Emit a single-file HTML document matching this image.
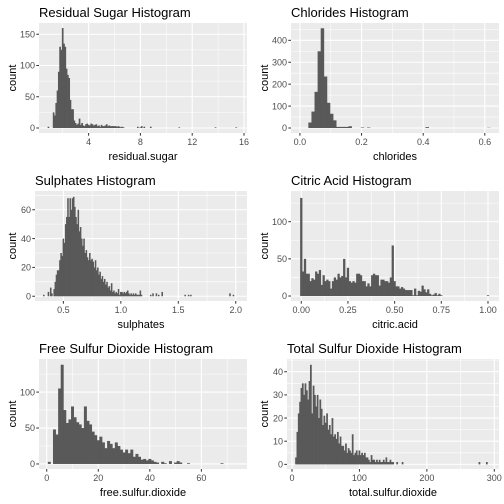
<!DOCTYPE html>
<html><head><meta charset="utf-8"><style>
body{margin:0;background:#fff;}
svg{display:block;font-family:"Liberation Sans",sans-serif;}
</style></head><body>
<svg id="c" width="504" height="504" viewBox="0 0 504 504"></svg>
<script>
// ---- data ----
const sugarX=[0.9,1.3,1.4,1.5,1.6,1.7,1.8,1.9,2.0,2.1,2.2,2.3,2.4,2.5,2.6,2.7,2.8,2.9,3.0,3.1,3.2,3.3,3.4,3.5,3.6,3.7,3.8,3.9,4.0,4.1,4.2,4.3,4.4,4.5,4.6,4.7,4.8,4.9,5.0,5.1,5.2,5.3,5.4,5.5,5.6,5.7,5.8,5.9,6.0,6.1,6.2,6.3,6.4,6.5,6.6,6.7,7.8,8.0,8.1,8.3,8.8,11.0,13.8,15.4];
const sugarCount=[2,25,20,40,60,90,130,125,160,135,130,95,85,80,45,30,30,12,8,5,7,15,5,8,4,3,6,7,5,4,7,6,4,5,6,3,4,2,5,3,3,4,6,3,4,3,3,3,3,3,2,3,2,1,2,1,2,1,3,2,2,1,1,1];
const chlorX=[0.03,0.04,0.05,0.06,0.07,0.08,0.09,0.10,0.11,0.12,0.13,0.14,0.15,0.16,0.20,0.22,0.41,0.61];
const chlorCount=[25,75,165,350,455,235,115,65,35,5,5,5,5,8,2,2,4,1];
const sulphX=[0.33,0.37,0.39,0.40,0.42,0.43,0.44,0.45,0.46,0.47,0.48,0.49,0.50,0.51,0.52,0.53,0.54,0.55,0.56,0.57,0.58,0.59,0.60,0.61,0.62,0.63,0.64,0.65,0.66,0.67,0.68,0.69,0.70,0.71,0.72,0.73,0.74,0.75,0.76,0.77,0.78,0.79,0.80,0.81,0.82,0.83,0.84,0.85,0.86,0.87,0.88,0.89,0.90,0.91,0.92,0.93,0.94,0.95,0.96,0.97,0.98,0.99,1.00,1.01,1.02,1.03,1.04,1.05,1.06,1.07,1.08,1.09,1.10,1.11,1.12,1.13,1.14,1.15,1.16,1.17,1.18,1.26,1.28,1.31,1.33,1.36,1.56,1.59,1.61,1.95,1.98];
const sulphCount=[1,3,6,2,5,10,15,18,18,25,30,28,40,37,50,55,68,55,68,60,68,69,62,55,50,60,45,48,40,35,40,30,32,27,25,30,25,26,24,20,25,18,20,15,17,12,14,10,12,8,10,6,7,4,9,3,4,2,3,2,5,1,3,3,2,3,2,3,4,2,1,2,1,2,1,2,1,1,1,4,1,1,2,2,1,3,1,1,1,2,1];
const citricX=[0.00,0.01,0.02,0.03,0.04,0.05,0.06,0.07,0.08,0.09,0.10,0.11,0.12,0.13,0.14,0.15,0.16,0.17,0.18,0.19,0.20,0.21,0.22,0.23,0.24,0.25,0.26,0.27,0.28,0.29,0.30,0.31,0.32,0.33,0.34,0.35,0.36,0.37,0.38,0.39,0.40,0.41,0.42,0.43,0.44,0.45,0.46,0.47,0.48,0.49,0.50,0.51,0.52,0.53,0.54,0.55,0.56,0.57,0.58,0.59,0.60,0.61,0.62,0.63,0.64,0.65,0.66,0.67,0.68,0.69,0.70,0.71,0.72,0.73,0.74,0.75,1.00];
const citricCount=[132,33,50,30,30,20,24,22,33,30,35,15,28,20,22,20,10,20,25,22,30,25,27,50,25,38,20,18,20,18,30,30,28,20,20,13,17,13,28,30,28,28,14,22,22,20,20,18,25,68,20,13,13,10,12,10,8,8,8,8,1,10,1,7,6,14,9,5,9,3,1,2,4,1,3,1,1];
const freeX=[1,3,4,5,6,7,8,9,10,11,12,13,14,15,16,17,18,19,20,21,22,23,24,25,26,27,28,29,30,31,32,33,34,35,36,37,38,39,40,41,42,43,45,46,48,50,51,52,55,68];
const freeCount=[3,48,41,105,138,75,57,62,80,65,58,55,50,80,60,55,45,40,33,38,30,22,32,28,22,30,25,20,16,20,15,20,10,14,10,6,7,5,7,5,3,2,3,1,4,2,4,2,1,1];
const totalX=[6,8,10,12,14,16,18,20,22,24,26,28,30,32,34,36,38,40,42,44,46,48,50,52,54,56,58,60,62,64,66,68,70,72,74,76,78,80,82,84,86,88,90,92,94,96,98,100,102,104,106,108,110,112,114,116,118,120,122,124,126,128,130,132,134,136,138,140,142,144,146,148,150,156,164,278,289];
const totalCount=[3,14,22,27,33,35,30,35,32,28,36,43,22,34,30,25,30,20,28,24,17,21,18,22,15,17,13,20,12,13,11,14,9,12,8,8,6,9,5,7,6,5,13,4,5,6,4,6,4,5,4,5,3,3,2,1,4,2,2,1,2,1,2,1,1,2,1,3,1,1,2,1,1,1,1,1,1];
const sugarXTicks=[4,8,12,16], sugarYTicks=[0,50,100,150];
const chlorXTicks=[0,0.2,0.4,0.6], chlorYTicks=[0,100,200,300,400];
const sulphXTicks=[0.5,1.0,1.5,2.0], sulphYTicks=[0,20,40,60];
const citricXTicks=[0,0.25,0.5,0.75,1.0], citricYTicks=[0,50,100];
const freeXTicks=[0,20,40,60], freeYTicks=[0,50,100];
const totalXTicks=[0,100,200,300], totalYTicks=[0,10,20,30,40];

const NS="http://www.w3.org/2000/svg";
const svg=document.getElementById('c');
function mk(tag,attrs,parent,text){const e=document.createElementNS(NS,tag);for(const k in attrs)e.setAttribute(k,attrs[k]);if(text!==undefined)e.textContent=text;(parent||svg).appendChild(e);return e;}

function panel(p){
  const g=mk('g',{});
  
  
  const sx=v=>p.L+(v-p.xl[0])/(p.xl[1]-p.xl[0])*(p.R-p.L);
  const sy=v=>p.B-(v-p.yl[0])/(p.yl[1]-p.yl[0])*(p.B-p.T);
  const bg=mk('rect',{x:p.L,y:p.T,width:p.R-p.L,height:p.B-p.T,fill:'#EBEBEB'},g);
  
  
  const xm=[],ym=[];
  const xs=p.xt,ys=p.yt,dx=xs[1]-xs[0],dy=ys[1]-ys[0];
  for(let v=xs[0]-dx/2;v<=p.xl[1];v+=dx) if(v>=p.xl[0]) xm.push(v);
  for(let v=ys[0]-dy/2;v<=p.yl[1];v+=dy) if(v>=p.yl[0]) ym.push(v);
  xm.forEach(v=>mk('line',{x1:sx(v),x2:sx(v),y1:p.T,y2:p.B,stroke:'#fff','stroke-width':0.55},g));
  ym.forEach(v=>mk('line',{y1:sy(v),y2:sy(v),x1:p.L,x2:p.R,stroke:'#fff','stroke-width':0.55},g));
  xs.forEach(v=>mk('line',{x1:sx(v),x2:sx(v),y1:p.T,y2:p.B,stroke:'#fff','stroke-width':1.1},g));
  ys.forEach(v=>mk('line',{y1:sy(v),y2:sy(v),x1:p.L,x2:p.R,stroke:'#fff','stroke-width':1.1},g));
  p.bx.forEach((x,i)=>{
    const x0=sx(x+p.off),x1=sx(x+p.off+p.w);
    const r=mk('rect',{x:x0-0.2,y:sy(p.bc[i]),width:Math.max(x1-x0,0.6)+0.4,height:sy(0)-sy(p.bc[i]),fill:'#595959'},g);
    
    
  });
  xs.forEach(v=>{
    mk('line',{x1:sx(v),x2:sx(v),y1:p.B,y2:p.B+2.7,stroke:'#333','stroke-width':1},g);
    const t=mk('text',{x:sx(v),y:p.B+12,'text-anchor':'middle','font-size':'9px',fill:'#4D4D4D'},g,p.xf(v));
    
    
  });
  ys.forEach(v=>{
    mk('line',{x1:p.L-2.7,x2:p.L,y1:sy(v),y2:sy(v),stroke:'#333','stroke-width':1},g);
    const t=mk('text',{x:p.L-4,y:sy(v)+3.2,'text-anchor':'end','font-size':'9px',fill:'#4D4D4D'},g,String(v));
    
    
  });
  const tt=mk('text',{x:p.L,y:p.T-6,'font-size':'13px',fill:'#000'},g,p.title);
  
  
  const xa=mk('text',{x:(p.L+p.R)/2,y:p.B+27,'text-anchor':'middle','font-size':'11px',fill:'#000'},g,p.xlab);
  
  
  const cy=(p.T+p.B)/2, cx=p.ox+12;
  const ya=mk('text',{x:cx,y:cy,'text-anchor':'middle','font-size':'11px',fill:'#000',transform:`rotate(-90 ${cx} ${cy}) translate(0 4)`},g,'count');
  
  
}
const f0=v=>String(v), f1=v=>v.toFixed(1), f2=v=>v.toFixed(2);
panel({name:'residual-sugar-panel',title:'Residual Sugar Histogram',xlab:'residual.sugar',ox:0,L:39,R:247,T:23,B:133,xl:[0.17,16.23],yl:[-8,168],xt:sugarXTicks,yt:sugarYTicks,xf:f0,bx:sugarX,bc:sugarCount,w:0.1,off:-0.05});
panel({name:'chlorides-panel',title:'Chlorides Histogram',xlab:'chlorides',ox:252,L:291,R:499,T:23,B:133,xl:[-0.029,0.646],yl:[-22.8,479],xt:chlorXTicks,yt:chlorYTicks,xf:f1,bx:chlorX,bc:chlorCount,w:0.01,off:-0.002});
panel({name:'sulphates-panel',title:'Sulphates Histogram',xlab:'sulphates',ox:0,L:35,R:247,T:191,B:301,xl:[0.253,2.098],yl:[-3.3,73],xt:sulphXTicks,yt:sulphYTicks,xf:f1,bx:sulphX,bc:sulphCount,w:0.01,off:-0.005});
panel({name:'citric-acid-panel',title:'Citric Acid Histogram',xlab:'citric.acid',ox:252,L:291,R:499,T:191,B:301,xl:[-0.055,1.059],yl:[-6.7,141.3],xt:citricXTicks,yt:citricYTicks,xf:f2,bx:citricX,bc:citricCount,w:0.01,off:-0.005});
panel({name:'free-sulfur-dioxide-panel',title:'Free Sulfur Dioxide Histogram',xlab:'free.sulfur.dioxide',ox:0,L:39,R:247,T:359,B:469,xl:[-3.0,77.7],yl:[-7,146],xt:freeXTicks,yt:freeYTicks,xf:f0,bx:freeX,bc:freeCount,w:1,off:-0.5});
panel({name:'total-sulfur-dioxide-panel',title:'Total Sulfur Dioxide Histogram',xlab:'total.sulfur.dioxide',ox:252,L:287,R:499,T:359,B:469,xl:[-7.4,307],yl:[-2,45.5],xt:totalXTicks,yt:totalYTicks,xf:f0,bx:totalX,bc:totalCount,w:2,off:-1});
</script>
</body></html>
